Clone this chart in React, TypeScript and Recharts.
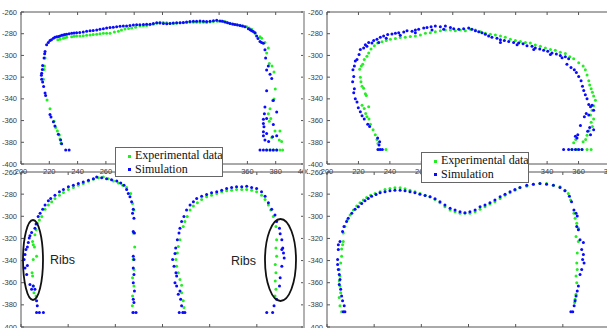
import React from "react";
import { ScatterChart, Scatter, XAxis, YAxis, ReferenceLine } from "recharts";

type Pt = [number, number];

const yTicks = [-400, -380, -360, -340, -320, -300, -280, -260];
const xTicksTL = [200, 220, 240, 260, 280, 300, 320, 340, 360, 380, 400];
const xTicksTR = [200, 220, 240, 260, 280, 300, 320, 340, 360, 380];
const xTicksLow = [200, 220, 240, 260, 280, 300, 320];
// labels that sit under the legend boxes
const hiddenTL = [280, 300, 320, 340];
const hiddenTR = [280, 300, 320];

// top-left panel
const tlSim: Pt[] = [
  [231.6, -387], [234, -387], [228.7, -381.4], [228, -377.8], [226.4, -372.7], [224, -365.1], [222.9, -361.2],
  [221.2, -356.7], [220.5, -354.3], [217.4, -337], [217, -334.6], [216, -328.6], [215.3, -324.4], [214.6, -321.9],
  [214.4, -318.3], [214.6, -316.5], [215.1, -312.9], [215.3, -309.2], [216.3, -302.3], [216.7, -298.4], [217, -296.3],
  [218.1, -290.2], [219.3, -288.1], [220.5, -286.3], [222.9, -284.2], [225.2, -282.7], [227.6, -282.1], [229.9, -281.1],
  [232.3, -280.5], [235.8, -279.6], [239.3, -279], [244, -278.4], [248.8, -277.2], [253.5, -276.6], [258.2, -275.4],
  [262.9, -274.2], [267.6, -273.6], [272.3, -273], [277, -272.4], [281.7, -271.8], [286.5, -271.5], [291.2, -271.2],
  [295.9, -270], [300.6, -270.6], [305.3, -270.6], [310, -270], [314.7, -269.7], [319.4, -268.8], [324.1, -268.5],
  [328.9, -268.5], [333.6, -268.5], [338.3, -267.6], [340.6, -268.2], [344.2, -269.1], [347.7, -270.6], [351.2, -271.5],
  [354.8, -272.4], [358.3, -273.6], [360.7, -275.4], [363, -277.2], [365.4, -279], [366.5, -282.1], [368.9, -287.2],
  [371.3, -288.7], [372.4, -294.7], [372.9, -302.3], [374.8, -309.8], [373.6, -313.5], [376, -317.4], [377.2, -321.3],
  [373.6, -332.5], [378.3, -341.6], [372.4, -347.6], [380.7, -352.1], [372, -353.7], [371.3, -358.8], [373.6, -358.2],
  [371.3, -362.7], [371.7, -365.7], [378.3, -363.6], [371.3, -370.3], [373.6, -371.8], [371.3, -373.9], [377.8, -374.8],
  [372.4, -377.8], [380.7, -373.9], [375, -379.3], [368.9, -387], [371.3, -387], [373.6, -387], [376, -387],
  [378.3, -387], [380.7, -387],
  [221.5, -285.5], [224, -283.2], [226.5, -282.5], [228.8, -281.5], [231, -280.8], [234, -280], [237.5, -279.3],
  [241.5, -278.8], [246.4, -277.8], [251, -277], [255.8, -276], [260.5, -274.8], [265.2, -274], [270, -273.2],
  [274.6, -272.8], [279.4, -272], [284, -271.7], [288.8, -271.3], [293.5, -270.6], [298.2, -270.2], [303, -270.8],
  [307.6, -270.2], [312.4, -269.8], [317, -269.2], [321.8, -268.6], [326.5, -268.3], [331.2, -268.7], [336, -268],
  [342.4, -268.6], [346, -269.8], [349.5, -271], [353, -272], [356.5, -273], [362, -276.3], [364.2, -278],
  [367.5, -284.5], [370, -288],
];
const tlExp: Pt[] = [
  [228.3, -380.8], [227.6, -376.9], [227.1, -373.3], [225.7, -369.7], [224.5, -366.3], [223.3, -360.6], [220.5, -349.1],
  [218.4, -341], [215.8, -321.9], [216.3, -312.9], [216.5, -309.8], [217, -302.3],
  [227.6, -285.1], [229.9, -284.2], [232.3, -283.3], [235.8, -282.7], [239.3, -282.1], [244, -281.8], [248.8, -281.1],
  [253.5, -280.5], [258.2, -279.6], [262.9, -279.6], [268.8, -277.8], [273.5, -275.7], [278.2, -274.8], [284.1, -273],
  [288.8, -272.4], [293.5, -271.2], [298.2, -269.4], [302.9, -270], [307.7, -270.6], [312.4, -270], [317.1, -269.7],
  [321.8, -269.4], [326.5, -269.4], [331.2, -269.7], [335.9, -268.8], [341.8, -268.2], [345.3, -269.4], [350.1, -271.2],
  [354.8, -272.1], [359.5, -273.6], [363, -276], [365.4, -279.6], [368.9, -282.7], [370.1, -284.2],
  [372.4, -288.1], [374.8, -293.2], [373.6, -297.8], [375.5, -307.4], [377.4, -309.8], [378.8, -315.3], [379.7, -331],
  [378.8, -340.1], [377.8, -341.6], [376, -349.1], [374.8, -353.7], [376.5, -358.2], [375.5, -360.6], [379.5, -369.7],
  [377.2, -375.7], [383, -369.7], [382.5, -377.8], [384.2, -379.3], [373.6, -387], [376, -387], [378.3, -387],
  [380.7, -387], [383, -387], [384.9, -387],
  [226, -285.6], [231, -283.8], [237.5, -282.4], [241.6, -282], [246.4, -281.5], [251, -280.8], [255.8, -280],
  [260.5, -279.6], [266, -278.5], [271, -276.6], [276, -275.2], [281, -274], [286.5, -272.7], [291, -271.8],
  [296, -270.3], [300.5, -269.7], [305.3, -270.3], [310, -270.3], [314.7, -269.8], [319.4, -269.5], [324.1, -269.4],
  [328.9, -269.5], [333.6, -269.2], [338.8, -268.5], [343.5, -268.8], [347.7, -270.3], [352.4, -271.6], [357, -272.8],
  [361.2, -274.8],
];

// top-right panel
const trSim: Pt[] = [
  [232.4, -386.6], [233.9, -386.6], [235.2, -386.6], [233.1, -382.6], [233.5, -379.6], [232.2, -376], [227.1, -365.4],
  [225.9, -363.3], [223.7, -358.5], [222.3, -355.5], [221.2, -351.9], [219.9, -348.3], [219.1, -342.8], [218, -339.8],
  [217, -334.4], [217.4, -330.8], [216.3, -324.2], [217, -319.3], [216.5, -313.3], [217.4, -309.7], [218, -305.2],
  [219.1, -303.7], [220.4, -299.2], [221.2, -294.6], [223.3, -293.1], [224.4, -290.1], [226.5, -288], [228.6, -288.6],
  [229.7, -286.2], [231.8, -285], [233.9, -283.2], [236, -282], [238.6, -280.8], [241.3, -280.2], [243.5, -279.6],
  [245.6, -279], [248.8, -278.4], [250.9, -277.2], [254.1, -277.8], [256.2, -276.6], [258.3, -276], [261.5, -274.8],
  [263.6, -274.2], [266.2, -273.6], [268.9, -273], [272.1, -273.6], [275.3, -273], [278.5, -274.2], [280.6, -275.4],
  [283.8, -276], [286.9, -275.4], [290.1, -274.8], [292.2, -276], [294.4, -277.2], [296.5, -278.1], [298.6, -279],
  [300.7, -280.5], [302.8, -282], [304.9, -283.2], [308.1, -284.1], [310.3, -285.6], [312.8, -286.2], [315.6, -287.1],
  [318.7, -288], [321.9, -288.6], [324.7, -289.2], [327.2, -291], [330.4, -291.6], [332.5, -293.1], [335.3, -294],
  [337.8, -295.2], [340.4, -296.1], [343.1, -297.7], [345.9, -298.6], [348.4, -300.1], [351.6, -301.3], [353.7, -303.1],
  [352.6, -308.2], [355.2, -311.2], [357.3, -313.3], [358.6, -315.7], [360.1, -319.3], [361.6, -323.3], [362.5, -328.4],
  [363.3, -332.3], [364.3, -336.2], [365.4, -339.8], [366.5, -345.2], [367.6, -347.3], [364.9, -353.4], [363.7, -356.4],
  [366.5, -354.9], [368.6, -345.8], [369.6, -350.4], [361.2, -364.5], [359.5, -373], [358, -374.5], [359, -376],
  [365.8, -369.9], [367.1, -366.3], [369.6, -368.4], [367.6, -373], [350.5, -386.6], [353.7, -386.6], [355.8, -386.6],
  [358, -386.6], [360.1, -386.6], [362.2, -386.6],
  [225.4, -291.6], [232.9, -288], [237.7, -284.1], [246.6, -281.4], [256.2, -279], [266.8, -276.6], [274.2, -276],
  [310.3, -288], [320.9, -290.1], [331.5, -294.6], [342.1, -299.2], [349.5, -302.2],
];
const trExp: Pt[] = [
  [220.8, -312.7], [221.2, -320.2], [221.6, -324.2], [222.3, -328.4], [223.3, -330.2], [224.4, -335.3], [225, -336.8],
  [226.5, -347.3], [222.3, -345.8], [223.7, -348.9], [224.6, -353.4], [225.4, -356.4], [226.7, -358.5], [227.6, -363.3],
  [229.3, -368.4], [230.7, -373], [231.8, -377.5], [232.4, -381.1], [233.3, -386.6], [237.5, -386.6],
  [221.8, -309.7], [222.7, -308.2], [223.7, -303.7], [225.4, -300.7], [226.5, -297.7], [228, -294], [230.1, -291],
  [232.2, -288.6], [235, -287.4], [237.7, -286.2], [240.3, -285], [243.5, -284.4], [246.6, -283.5], [249.8, -283.2],
  [253, -282.6], [256.2, -282], [259.4, -281.1], [262.6, -279.6], [265.7, -279], [268.9, -278.1], [272.1, -277.2],
  [275.3, -276.6], [278.5, -276.6], [281.6, -277.2], [284.8, -276.6], [288, -277.2], [291.2, -276], [294.4, -276.6],
  [297.5, -278.1], [300.7, -279.6], [303.9, -280.5], [307.1, -281.1], [310.3, -282], [313.4, -283.2], [316.6, -285],
  [319.8, -286.2], [323, -287.1], [326.2, -288], [329.3, -288.6], [332.5, -290.4], [335.7, -291.6], [338.9, -293.1],
  [342.1, -294.6], [345.2, -295.2], [348.4, -297], [351.6, -298.3], [354.4, -301.3], [356.9, -303.1], [360.1, -306.7],
  [362.9, -309.7], [364.3, -313.3], [365.4, -318.1], [366.5, -323.3], [367.1, -327.2], [368, -330.8], [368.8, -333.8],
  [369.6, -337.4], [370.7, -341.3], [369.6, -346.4], [368.6, -350.4], [367.6, -354.9], [369.6, -358.5], [368, -361.5],
  [368.8, -365.4], [366.7, -369.3], [365.4, -373.6], [364.5, -377.5], [362.9, -379.6], [356.9, -380.5], [358.2, -377.5],
  [355.8, -386.6], [359, -386.6], [362.2, -386.6], [365.4, -386.6], [368, -386.6],
];

// bottom-left panel
const blSim: Pt[] = [
  [206.6, -386.9], [207.8, -386.9], [209.5, -386.9], [206.9, -380.9], [206.6, -376.4], [204.5, -366], [203.8, -361.5],
  [202.4, -352.5], [201.7, -346.6], [201.3, -339.1], [201.7, -334.6], [202.1, -330.1], [202.7, -327.8], [203.1, -323.6],
  [203.5, -319.7], [204.5, -314.6], [205.9, -310.7], [206.4, -306.9], [207.3, -300.3], [208.1, -297.3], [209.2, -293.7],
  [210.2, -289.9], [211.6, -286], [212.6, -283.9], [214.4, -280.9], [216.3, -277.9], [218, -275.8], [220.1, -273.4],
  [222.2, -271.9], [224.3, -270.4], [226.4, -269], [228.6, -267.5], [230.7, -266], [232.1, -264.5], [234.2, -265.1],
  [236.3, -266], [238.4, -266.9], [240.6, -268.1], [242.3, -269.9], [243.7, -271.9], [244.8, -275.8], [245.5, -279.4],
  [246.2, -282.4], [246.9, -286.9], [247.6, -293.7], [247.3, -297.3], [247.9, -301.8], [247.6, -313.7], [248.1, -315.2],
  [247.6, -336.1], [247.9, -339.1], [247.6, -346.6], [247.9, -352.5], [247.6, -360], [248.1, -367.5], [247.6, -374.9],
  [247.9, -377.9], [247.6, -386.9], [248.8, -386.9], [202.7, -344.5], [203.8, -317.6], [205.2, -363], [205.9, -366],
  [267.1, -386.9], [268.6, -386.9], [269.5, -386.9], [268.1, -380.9], [267.7, -374.9], [266.7, -370.4], [267.4, -367.5],
  [266, -363], [265.3, -360], [266, -354], [265.7, -351], [264.9, -345.1], [264.3, -339.1], [265.3, -333.7],
  [265.6, -328.7], [266.3, -321.2], [267, -315.2], [267.4, -310.7], [268.1, -304.8], [269.1, -300.3], [270.2, -294.3],
  [271.7, -289.9], [273.1, -286.9], [274.5, -283.9], [276.6, -281.8], [278.7, -280.3], [280.8, -278.8], [283, -277.9],
  [285.1, -276.4], [287.2, -274.9], [289.3, -274], [291.4, -273.4], [293.6, -273.4], [295.7, -272.8], [297.8, -274],
  [299.9, -274.9], [302, -277.9], [303.5, -281.8], [304.9, -287.8], [306.3, -293.7], [307.7, -298.8], [308.4, -304.8],
  [309.6, -310.7], [309.9, -315.8], [310.6, -321.2], [311, -328.7], [311.6, -337.6], [310.6, -345.1], [309.9, -355.5],
  [309.6, -363], [308.4, -374.9], [307.3, -380.9], [304.2, -386.9], [306.7, -386.9], [310.6, -330.1], [311.3, -333.1],
];
const blExp: Pt[] = [
  [206.4, -371.9], [205.5, -369], [205.2, -363], [204.9, -354], [204.7, -351], [205.2, -339.1], [205.7, -327.8],
  [205.2, -325.7], [204.9, -322.7], [205.9, -316.7], [206.4, -312.2], [206.9, -306.3], [207.8, -303.3], [208.8, -300.3],
  [210.2, -293.7], [211.6, -289.9], [213, -286.9], [214.4, -283.9], [216.3, -280.9], [218, -278.5], [220.1, -275.8],
  [222.2, -274], [224.3, -271.9], [226.4, -270.4], [228.6, -268.4], [230.7, -266.6], [232.8, -265.1], [234.9, -264.5],
  [237, -266], [239.2, -268.1], [241.3, -269.9], [243.1, -271.9], [244.8, -274], [246.5, -279.4], [247.3, -288.4],
  [247.9, -294.3], [247.6, -315.2], [248.2, -327.8], [247.6, -339.1], [247.9, -348.1], [247.3, -355.5], [247.9, -363],
  [247.3, -371.9], [247.2, -380.9], [247.3, -386.9], [206.6, -336.1],
  [267.4, -321.2], [266.7, -327.2], [266.3, -333.1], [265.7, -339.1], [266, -345.1], [266.7, -351], [267.4, -357],
  [268.1, -362.4], [268.1, -369], [268.8, -376.4], [269.1, -382.4], [268.8, -386.9],
  [268.8, -309.2], [269.5, -304.8], [270.5, -300.3], [271.7, -294.3], [273.1, -290.7], [274.8, -287.8], [276.6, -284.8],
  [278.7, -282.4], [280.8, -280.9], [283, -279.4], [285.1, -277.9], [287.2, -277], [289.3, -276.4], [291.4, -275.8],
  [293.6, -275.8], [295.7, -275.8], [297.8, -276.4], [299.9, -277.9], [302, -280.9], [303.5, -284.8], [304.9, -289.9],
  [305.9, -294.3], [307, -300.3], [308.1, -309.2], [308.4, -321.2], [308.1, -328.7], [308.4, -336.1], [307.8, -343.6],
  [308.1, -351], [307.8, -358.5], [308.1, -366], [307.7, -371.9],
];

// bottom-right panel
const brSim: Pt[] = [
  [206.9, -386.3], [207.6, -386.3], [207.3, -380.9], [206.6, -376.4], [206.2, -371.9], [205.8, -366], [205.2, -361.5],
  [205.5, -357], [205.2, -352.5], [204.8, -348.1], [204.5, -343.6], [204.5, -339.1], [204.8, -330.1], [204.8, -325.7],
  [205.5, -322.7], [206.6, -313.7], [207.2, -309.3], [208.3, -304.8], [209, -301.8], [210.5, -297.3], [211.9, -293.7],
  [213.3, -291.3], [214.7, -288.4], [216.1, -286], [217.5, -283.9], [218.9, -281.8], [220.8, -280.3], [222.5, -278.8],
  [224.6, -277.9], [226.7, -277], [228.8, -276.4], [231, -276.4], [233.1, -277], [235.2, -277.9], [237.3, -278.8],
  [239.4, -280], [241.6, -281.2], [243.7, -282.4], [245.8, -284.2], [247.9, -286.9], [250, -289.9], [252.2, -292.8],
  [254.3, -294.3], [256.4, -295.8], [258.5, -296.7], [260.6, -295.8], [262.8, -294.3], [264.9, -291.3], [267, -289.9],
  [269.1, -287.8], [271.2, -285.4], [273.4, -282.4], [275.5, -280], [277.6, -277.9], [279.7, -275.8], [281.8, -274],
  [284.7, -271.9], [287.5, -271], [290.3, -270.4], [293.1, -271], [296, -271.9], [298.8, -274], [300.9, -277],
  [302.8, -281.8], [303.7, -286.9], [304.7, -294.3], [305.6, -297.3], [306.1, -299.7], [305.9, -309.3], [306.6, -312.2],
  [307.3, -321.2], [308.7, -323.6], [308, -330.1], [308.7, -334.6], [308.4, -339.1], [309, -342.1], [308, -348.1],
  [307.3, -352.5], [306.6, -363], [306.1, -367.5], [305.6, -371.9], [305.2, -376.4], [304.8, -380.9], [304.2, -386.3],
  [303.4, -386.3],
];
const brExp: Pt[] = [
  [206.2, -386.3], [205.5, -380.9], [205.2, -373.4], [205.8, -369], [205.5, -363], [205.2, -358.5], [205.5, -354],
  [205.2, -348.1], [205.8, -342.1], [206.2, -336.1], [206.2, -329.6], [206.6, -325.7], [206.9, -322.7], [206.9, -315.2],
  [207.6, -309.3], [208.6, -303.3], [209.8, -298.8], [211.2, -294.3], [212.6, -290.7], [214, -287.8], [215.4, -285.4],
  [216.8, -283], [218.5, -280.9], [220.4, -279.4], [222.5, -277.9], [224.6, -275.8], [226.7, -274.9], [228.8, -274.3],
  [231, -274.3], [233.1, -275.2], [235.2, -276.4], [237.3, -277.9], [239.4, -279.4], [241.6, -280.9], [243.7, -282.4],
  [245.8, -284.8], [247.9, -287.8], [250, -291.3], [252.2, -294.3], [254.3, -295.8], [256.4, -297.3], [258.5, -297.3],
  [260.6, -297.3], [262.8, -295.8], [264.9, -293.7], [267, -291.3], [269.1, -288.9], [271.2, -286.9], [273.4, -283.9],
  [275.5, -280.9], [277.6, -278.8], [279.7, -276.4], [281.8, -274.3], [284.7, -272.8], [287.5, -271], [290.3, -270.4],
  [293.1, -270.4], [296, -271.9], [298.8, -273.4], [300.9, -276.4], [302.3, -279.4], [303.3, -285.4], [304.7, -297.3],
  [305.2, -301.8], [305.9, -306.3], [306.6, -310.7], [305.6, -318.2], [306.6, -322.7], [306.1, -333.1], [305.9, -342.1],
  [306.1, -348.1], [305.6, -354], [305.9, -360], [305.6, -370.4], [305.2, -374.9], [305, -377.9],
];

const AXIS = "#555";
const LABEL = "#3c3c3c";
const BLUE = "#0a0aff";
const GREEN = "#22ee22";
const tickFont = {
  fontSize: 7.5,
  fontFamily: '"Liberation Sans Narrow", "Liberation Sans", Arial, sans-serif',
};

const toXY = (pts: Pt[]) => pts.map(([x, y]) => ({ x, y }));

// ticks point inward on all four sides, like a matlab box
const xTick = (plotH: number, showLabels: boolean, hidden: number[]) => (p: any) => (
  <g>
    <line x1={p.x} y1={p.y} x2={p.x} y2={p.y - 3} stroke={AXIS} />
    <line x1={p.x} y1={p.y - plotH} x2={p.x} y2={p.y - plotH + 3} stroke={AXIS} />
    {showLabels && !hidden.includes(p.payload.value) && (
      <text x={p.x} y={p.y + 9.5} textAnchor="middle" fill={LABEL} {...tickFont}>
        {p.payload.value}
      </text>
    )}
  </g>
);

const yTick = (plotW: number) => (p: any) => (
  <g>
    <line x1={p.x} y1={p.y} x2={p.x + 3} y2={p.y} stroke={AXIS} />
    <line x1={p.x + plotW} y1={p.y} x2={p.x + plotW - 3} y2={p.y} stroke={AXIS} />
    <text x={p.x - 4} y={p.y + 2.6} textAnchor="end" fill={LABEL} {...tickFont}>
      {p.payload.value}
    </text>
  </g>
);

const dot = (color: string) => (p: any) => <circle cx={p.cx} cy={p.cy} r={1.5} fill={color} />;

interface PanelProps {
  left: number;
  top: number;
  plotW: number;
  plotH: number;
  xTicks: number[];
  exp: Pt[];
  sim: Pt[];
  showXLabels?: boolean;
  hidden?: number[];
}

function Panel({ left, top, plotW, plotH, xTicks, exp, sim, showXLabels = true, hidden = [] }: PanelProps) {
  const ml = 24;
  const mt = 4;
  const mr = 4;
  const xh = 14;
  const xMax = xTicks[xTicks.length - 1];
  return (
    <div style={{ position: "absolute", left: left - ml, top: top - mt }}>
      <ScatterChart
        width={ml + plotW + mr}
        height={mt + plotH + xh}
        margin={{ top: mt, right: mr, bottom: 0, left: 0 }}
      >
        <XAxis
          type="number"
          dataKey="x"
          domain={[xTicks[0], xMax]}
          ticks={xTicks}
          interval={0}
          height={xh}
          tickSize={0}
          tickMargin={0}
          tickLine={false}
          axisLine={{ stroke: AXIS }}
          tick={xTick(plotH, showXLabels, hidden)}
          allowDataOverflow
        />
        <YAxis
          type="number"
          dataKey="y"
          domain={[-400, -260]}
          ticks={yTicks}
          interval={0}
          width={ml}
          tickSize={0}
          tickMargin={0}
          tickLine={false}
          axisLine={{ stroke: AXIS }}
          tick={yTick(plotW)}
          allowDataOverflow
        />
        <ReferenceLine y={-260} stroke={AXIS} />
        <ReferenceLine x={xMax} stroke={AXIS} />
        <Scatter data={toXY(exp)} fill={GREEN} shape={dot(GREEN)} isAnimationActive={false} />
        <Scatter data={toXY(sim)} fill={BLUE} shape={dot(BLUE)} isAnimationActive={false} />
      </ScatterChart>
    </div>
  );
}

const legendText: React.CSSProperties = {
  fontFamily: '"Liberation Serif", "Times New Roman", serif',
  fontSize: 12,
  color: "#111",
  lineHeight: "13.5px",
  whiteSpace: "nowrap",
};

function LegendBox({ left, top, width, height }: { left: number; top: number; width: number; height: number }) {
  const mark = (c: string) => (
    <span
      style={{
        display: "inline-block",
        width: 3,
        height: 3,
        background: c,
        marginRight: 4,
        verticalAlign: "middle",
      }}
    />
  );
  return (
    <div
      style={{
        position: "absolute",
        left,
        top,
        width,
        height,
        boxSizing: "border-box",
        border: "1px solid #666",
        background: "#fff",
        padding: "1px 0 0 12px",
        overflow: "hidden",
        ...legendText,
      }}
    >
      <div>{mark(GREEN)}Experimental data</div>
      <div>{mark(BLUE)}Simulation</div>
    </div>
  );
}

export default function App() {
  return (
    <div
      style={{
        position: "absolute",
        left: 0,
        top: 0,
        width: 607,
        height: 328,
        overflow: "hidden",
        background: "#fff",
      }}
    >
      <Panel left={21} top={12} plotW={283} plotH={152} xTicks={xTicksTL} exp={tlExp} sim={tlSim} hidden={hiddenTL} />
      <Panel left={327} top={12} plotW={283} plotH={152} xTicks={xTicksTR} exp={trExp} sim={trSim} hidden={hiddenTR} />
      <Panel left={21} top={172} plotW={283} plotH={155} xTicks={xTicksLow} exp={blExp} sim={blSim} showXLabels={false} />
      <Panel left={327} top={172} plotW={283} plotH={155} xTicks={xTicksLow} exp={brExp} sim={brSim} showXLabels={false} />
      <div style={{ position: "absolute", left: 302.5, top: 11, width: 2.5, height: 317, background: "#b2b2b2" }} />
      <svg width={607} height={328} style={{ position: "absolute", left: 0, top: 0 }}>
        <ellipse cx={33} cy={260} rx={10} ry={40} fill="none" stroke="#111" strokeWidth={1.8} />
        <ellipse cx={280.5} cy={260} rx={15.5} ry={41} fill="none" stroke="#111" strokeWidth={1.8} />
        <text x={50} y={264} fontSize={12.5} fontFamily='"Liberation Sans", Arial, sans-serif' fill="#222">
          Ribs
        </text>
        <text x={231} y={265} fontSize={12.5} fontFamily='"Liberation Sans", Arial, sans-serif' fill="#222">
          Ribs
        </text>
      </svg>
      <LegendBox left={115} top={147} width={108} height={30} />
      <LegendBox left={421} top={152} width={108} height={31} />
    </div>
  );
}
